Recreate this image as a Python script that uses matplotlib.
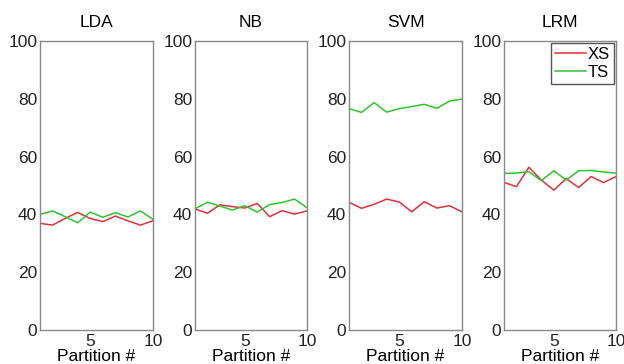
import numpy as np
import matplotlib.pyplot as plt

plt.rcParams["font.family"] = ["Liberation Sans", "DejaVu Sans"]

# partitions 1..10
partitions = list(range(1, 11))
models = ["LDA", "NB", "SVM", "LRM"]

xs_lda = [36.9, 36.3, 38.6, 40.7, 38.6, 37.5, 39.4, 37.8, 36.3, 37.8]
ts_lda = [40.0, 41.2, 39.2, 37.1, 40.8, 39.0, 40.6, 39.1, 41.2, 38.3]

xs_nb = [41.9, 40.4, 43.3, 42.7, 42.2, 43.8, 39.2, 41.3, 40.1, 41.2]
ts_nb = [41.9, 44.2, 42.9, 41.5, 43.0, 40.8, 43.4, 44.1, 45.3, 42.3]

xs_svm = [44.2, 42.1, 43.5, 45.3, 44.3, 40.9, 44.4, 42.2, 43.0, 40.9]
ts_svm = [76.6, 75.3, 78.7, 75.4, 76.6, 77.3, 78.1, 76.7, 79.2, 79.9]

xs_lrm = [51.1, 49.6, 56.3, 51.9, 48.4, 52.4, 49.3, 53.1, 51.0, 53.1]
ts_lrm = [54.2, 54.3, 54.8, 51.7, 55.1, 51.9, 55.1, 55.2, 54.7, 54.3]

xs_all = [xs_lda, xs_nb, xs_svm, xs_lrm]
ts_all = [ts_lda, ts_nb, ts_svm, ts_lrm]

RED = "#e2303a"
GREEN = "#2fc42f"

fig = plt.figure(figsize=(6.24, 3.64), dpi=100)
lefts = [40, 195, 349, 504]
widths = [113, 112, 113, 112]
bottom = 1 - 330 / 364
height = (330 - 41) / 364

for i, name in enumerate(models):
    ax = fig.add_axes([lefts[i] / 624, bottom, widths[i] / 624, height])
    ax.plot(partitions, xs_all[i], color=RED, lw=1.1, label="XS")
    ax.plot(partitions, ts_all[i], color=GREEN, lw=1.1, label="TS")
    ax.set_xlim(1, 10)
    ax.set_ylim(0, 100)
    ax.set_xticks([5, 10])
    ax.set_yticks([0, 20, 40, 60, 80, 100])
    ax.tick_params(length=0, labelsize=12.5, colors="#222222")
    ax.tick_params(axis="x", pad=3)
    ax.tick_params(axis="y", pad=2)
    for s in ax.spines.values():
        s.set_color("#888888")
        s.set_linewidth(1.0)
    ax.set_title(name, fontsize=12.5, pad=10)
    ax.set_xlabel("Partition #", fontsize=12.5, labelpad=0)
    if name == "LRM":
        ax.legend(loc="upper right", fontsize=12, handlelength=1.9,
                  handletextpad=0.1, borderpad=0.25, labelspacing=0.2,
                  fancybox=False, framealpha=1, edgecolor="#555555",
                  borderaxespad=0.1)

plt.savefig("out.png", dpi=100)
